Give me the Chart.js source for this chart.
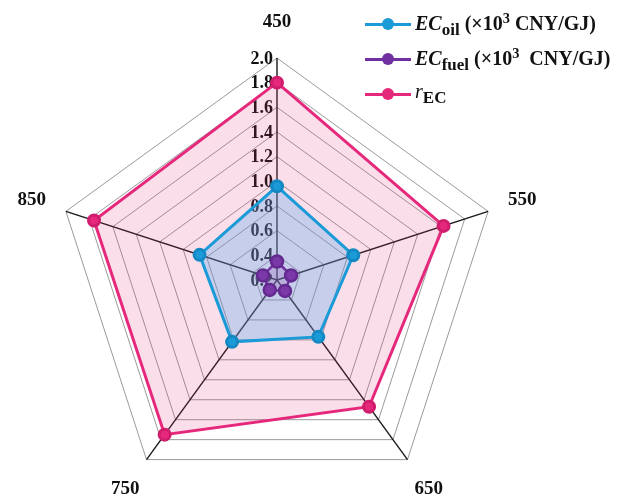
<!DOCTYPE html>
<html>
<head>
<meta charset="utf-8">
<script src="https://cdn.jsdelivr.net/npm/chart.js@4/dist/chart.umd.min.js"></script>
<style>
	html, body { margin: 0; padding: 0; background: #fff; overflow: hidden; }
	#wrap { position: absolute; left: 0; top: 0; width: 620px; height: 520px; }
	.legend { position: absolute; left: 365px; top: 6px; font-family: "Liberation Serif", "Times New Roman", serif; font-weight: bold; font-size: 20px; color: #111; }
	.legend .row { position: relative; height: 35px; white-space: nowrap; }
	.legend .ln { position: absolute; left: 0; top: 17px; width: 46px; height: 3px; }
	.legend .dot { position: absolute; left: 17px; top: 12px; width: 12px; height: 12px; border-radius: 50%; }
	.legend .txt { position: absolute; left: 50px; top: 4px; }
	.legend sub { font-size: 0.85em; vertical-align: -0.3em; }
	.legend sup { font-size: 0.72em; vertical-align: 0.5em; }
</style>
</head>
<body>
<div id="wrap"><canvas id="radar-chart"></canvas></div>
<div class="legend">
	<div class="row"><div class="ln" style="background:#1a9ad6"></div><div class="dot" style="background:#1a9ad6"></div><div class="txt"><i>EC</i><sub>oil</sub> (×10<sup>3</sup> CNY/GJ)</div></div>
	<div class="row"><div class="ln" style="background:#7030a0"></div><div class="dot" style="background:#7030a0"></div><div class="txt"><i>EC</i><sub>fuel</sub> (×10<sup>3</sup>&nbsp; CNY/GJ)</div></div>
	<div class="row"><div class="ln" style="background:#e6287c"></div><div class="dot" style="background:#e6287c"></div><div class="txt"><i style="font-weight:normal">r</i><sub>EC</sub></div></div>
</div>
<script>
	// axis categories (temperature) and the three series
	var categories = ['450', '550', '650', '750', '850'];
	var ecOil = [0.96, 0.85, 0.77, 0.82, 0.86];
	var ecFuel = [0.35, 0.32, 0.31, 0.30, 0.32];
	var rEC = [1.80, 1.62, 1.47, 1.75, 1.76];

	// radial scale
	var scaleMin = 0.2;
	var scaleMax = 2.0;
	var scaleStep = 0.2;

	var serif = '"Liberation Serif", "Times New Roman", serif';

	// tick labels left of the top axis, category labels around the web
	var labelPlugin = {
		id: 'labelPlugin',
		beforeDatasetsDraw: function (chart) {
			var scale = chart.scales.r;
			var ctx = chart.ctx;
			ctx.save();
			ctx.fillStyle = '#111';
			ctx.font = 'bold 18px ' + serif;
			ctx.textAlign = 'right';
			ctx.textBaseline = 'middle';
			scale.ticks.forEach(function (tick) {
				var d = scale.getDistanceFromCenterForValue(tick.value);
				ctx.fillText(tick.value.toFixed(1), scale.xCenter - 4, scale.yCenter - d + 1);
			});
			ctx.font = 'bold 19px ' + serif;
			ctx.textAlign = 'center';
			categories.forEach(function (label, i) {
				var p = scale.getPointPosition(i, scale.drawingArea + 36);
				ctx.fillText(label, p.x, p.y);
			});
			ctx.restore();
		}
	};

	new Chart('radar-chart', {
		type: 'radar',
		data: {
			labels: categories,
			datasets: [
				{
					label: 'ECoil',
					data: ecOil,
					order: 2,
					borderColor: '#1a9ad6',
					backgroundColor: 'rgba(80, 170, 240, 0.3)',
					pointBackgroundColor: '#1a9ad6',
					pointBorderColor: '#1488c2',
					borderWidth: 3,
					pointRadius: 5.5,
					fill: true
				},
				{
					label: 'ECfuel',
					data: ecFuel,
					order: 1,
					borderColor: '#7030a0',
					backgroundColor: 'rgba(130, 70, 170, 0.22)',
					pointBackgroundColor: '#7a38a8',
					pointBorderColor: '#632a90',
					borderWidth: 2.5,
					pointRadius: 6,
					fill: true
				},
				{
					label: 'rEC',
					data: rEC,
					order: 3,
					borderColor: '#e6287c',
					backgroundColor: 'rgba(225, 50, 120, 0.16)',
					pointBackgroundColor: '#e6287c',
					pointBorderColor: '#d01c6c',
					borderWidth: 3,
					pointRadius: 5.5,
					fill: true
				}
			]
		},

		options: {
			responsive: true,
			maintainAspectRatio: false,
			animation: false,
			layout: {
				padding: { left: 55, right: 121, top: 50, bottom: 10 }
			},
			plugins: {
				legend: { display: false },
				tooltip: { enabled: false }
			},
			elements: {
				line: { tension: 0 }
			},
			scales: {
				r: {
					min: scaleMin,
					max: scaleMax,
					ticks: {
						stepSize: scaleStep,
						display: false
					},
					grid: {
						color: '#9a9a9a',
						lineWidth: 1
					},
					angleLines: {
						color: '#1a1a1a',
						lineWidth: 1.4
					},
					pointLabels: { display: false }
				}
			}
		},
		plugins: [labelPlugin]
	});
</script>
</body>
</html>
